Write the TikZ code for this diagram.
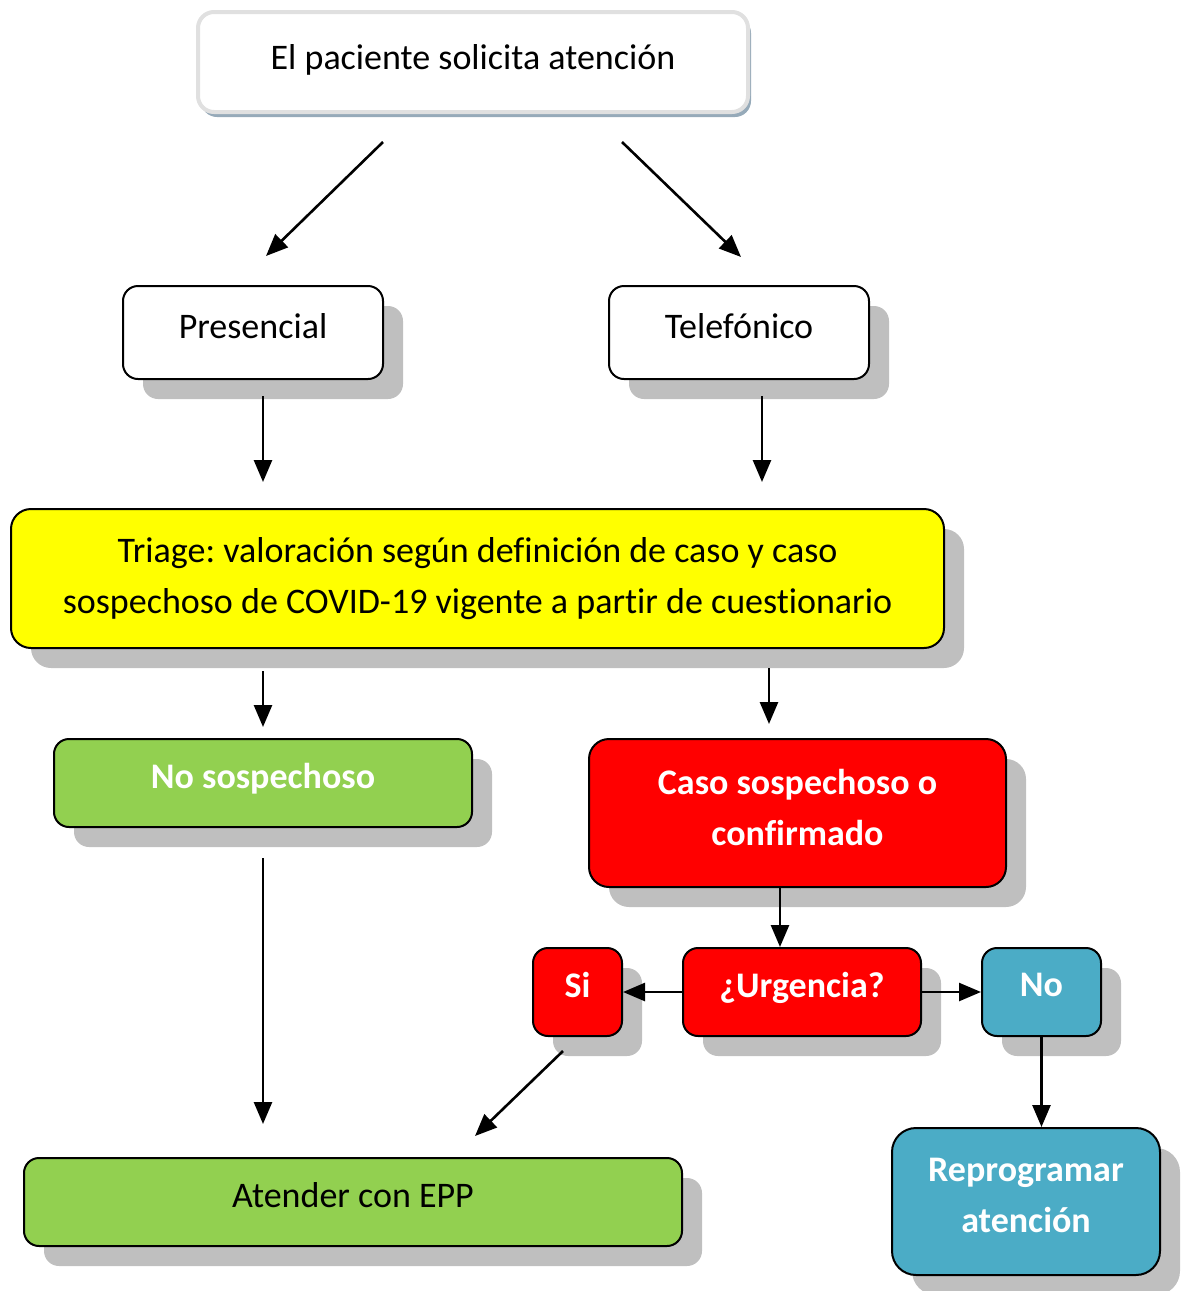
\documentclass[tikz,border=0pt]{standalone}
\usepackage{fontspec}
\setmainfont{Carlito}[Ligatures=CommonOff]
\frenchspacing
\usetikzlibrary{shadows,calc,arrows.meta}
\definecolor{shgray}{RGB}{191,191,191}
\definecolor{shblue}{RGB}{150,170,185}
\definecolor{ylw}{RGB}{255,255,0}
\definecolor{grn}{RGB}{146,208,80}
\definecolor{rd}{RGB}{255,0,0}
\definecolor{blu}{RGB}{75,172,198}
\newcommand\onestrut{\rule[-7pt]{0pt}{15.5pt}}
\newcommand\topstrut{\rule[-5.5pt]{0pt}{13.5pt}}
\newcommand\twostrut{\rule[-6pt]{0pt}{0pt}}
\tikzset{
  box/.style={rectangle, rounded corners=7.5pt, draw=black, line width=1pt, align=center,
    font=\fontsize{18pt}{25.5pt}\selectfont, inner sep=0pt,
    general shadow={fill=shgray, shadow xshift=10pt, shadow yshift=-10pt}},
  wbox/.style={box, fill=white, text=black},
  colbox/.style={box, text=white, font=\fontsize{18pt}{25.5pt}\selectfont\bfseries},
  topbox/.style={rectangle, rounded corners=8pt, draw=black!12, line width=2pt, fill=white,
    font=\fontsize{18pt}{25.5pt}\selectfont, inner sep=0pt,
    general shadow={fill=shblue, shadow xshift=1.5pt, shadow yshift=-2.5pt}},
  arr/.style={line width=1.3pt, -{Triangle[length=11pt,width=9pt]}}
}
\begin{document}
\begin{tikzpicture}[x=0.5pt,y=-0.5pt]
\useasboundingbox (0,0) rectangle (1180,1291);
\node[topbox, minimum width=275pt, minimum height=50pt] (top) at (473,62) {\topstrut El paciente solicita atención};
\node[wbox, minimum width=130pt, minimum height=46.5pt] (pres) at (253,332.5) {\onestrut Presencial};
\node[wbox, minimum width=130pt, minimum height=46.5pt] (tel) at (739,332.5) {\onestrut Telefónico};
\node[box, fill=ylw, minimum width=466.5pt, minimum height=69.5pt, rounded corners=10pt] (triage) at (477.5,578.5) {Triage: valoración según definición de caso y caso\\sospechoso de COVID-19 vigente a partir de cuestionario};
\node[colbox, fill=grn, minimum width=209pt, minimum height=44pt] (nosos) at (263,783) {\onestrut No sospechoso};
\node[colbox, fill=rd, minimum width=208.5pt, minimum height=74pt, rounded corners=10pt] (caso) at (797.5,813) {Caso sospechoso o\\confirmado\twostrut};
\node[colbox, fill=rd, minimum width=44.5pt, minimum height=44pt] (si) at (577.5,992) {\onestrut Si};
\node[colbox, fill=rd, minimum width=119pt, minimum height=44pt] (urg) at (802,992) {\onestrut ¿Urgencia?};
\node[colbox, fill=blu, minimum width=59.5pt, minimum height=44pt] (no) at (1041.5,992) {\onestrut No};
\node[box, fill=grn, minimum width=329pt, minimum height=44pt] (atender) at (353,1202) {\onestrut Atender con EPP};
\node[colbox, fill=blu, minimum width=134pt, minimum height=73.5pt, rounded corners=12pt] (repro) at (1026,1201.5) {Reprogramar\\atención\twostrut};

\draw[arr] ($(top.south)+(-90,28)$) -- ($(pres.north)+(13,-29)$);
\draw[arr] ($(top.south)+(149,28)$) -- ($(tel.north)+(2,-28)$);
\draw[arr] ($(pres.south)+(10,16)$) -- ($(pres.south |- triage.north)+(10,-26)$);
\draw[arr] ($(tel.south)+(23,16)$) -- ($(tel.south |- triage.north)+(23,-26)$);
\draw[arr] ($(nosos.north |- triage.south)+(0,22)$) -- ($(nosos.north)+(0,-11)$);
\draw[arr] ($(caso.north |- triage.south)+(-28.5,19)$) -- ($(caso.north)+(-28.5,-14)$);
\draw[arr] ($(nosos.south)+(0,30)$) -- ($(nosos.south |- atender.north)+(0,-33)$);
\draw[arr] ($(caso.south)+(-17.5,0)$) -- ($(urg.north)+(-22,0)$);
\draw[arr] (urg.west) -- (si.east);
\draw[arr] (urg.east) -- (no.west);
\draw[arr] ($(si.south)+(-14.5,14)$) -- ($(atender.north)+(122,-21)$);
\draw[arr] (no.south) -- (no.south |- repro.north);
\end{tikzpicture}
\end{document}
